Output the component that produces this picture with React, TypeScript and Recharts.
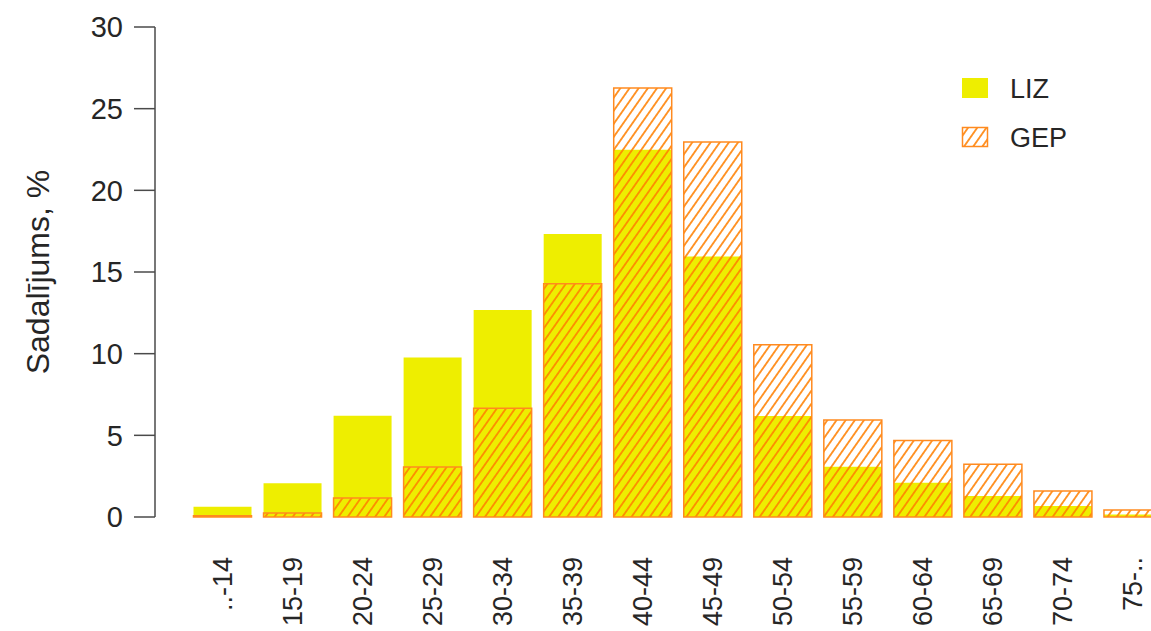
import React from 'react';
import { BarChart, Bar, XAxis, YAxis } from 'recharts';

// age groups and shares (%)
const categories = ['..-14', '15-19', '20-24', '25-29', '30-34', '35-39', '40-44', '45-49', '50-54', '55-59', '60-64', '65-69', '70-74', '75-..'];
const lizValues = [0.63, 2.06, 6.2, 9.76, 12.68, 17.32, 22.49, 15.95, 6.19, 3.08, 2.1, 1.29, 0.67, 0.15];
const gepValues = [0.08, 0.25, 1.16, 3.06, 6.66, 14.28, 26.27, 22.96, 10.54, 5.94, 4.68, 3.23, 1.59, 0.43];
const yTicks = [0, 5, 10, 15, 20, 25, 30];

const data = categories.map((cat, i) => ({ cat, liz: lizValues[i], gep: gepValues[i] }));

const FONT = '"Liberation Sans", Arial, Helvetica, sans-serif';
const TEXT = '#262626';
const AXIS = '#4a4a4a';
const YELLOW = '#EEEE00';
const ORANGE = '#FF8A1F';
const HATCH = '#FF7F00';
const LABEL_TOP = 557;

const AgeTick = (props: any) => {
  const { x, payload } = props;
  const tx = x + 9.5;
  const ty = LABEL_TOP;
  return (
    <text
      x={tx}
      y={ty}
      transform={`rotate(-90 ${tx} ${ty})`}
      textAnchor="end"
      fontFamily={FONT}
      fontSize={27}
      fill={TEXT}
    >
      {payload.value}
    </text>
  );
};

const YLabel = (props: any) => {
  const { viewBox } = props;
  const cx = viewBox.x + 38;
  const cy = viewBox.y + viewBox.height / 2;
  return (
    <text
      x={cx}
      y={cy}
      transform={`rotate(-90 ${cx} ${cy})`}
      textAnchor="middle"
      dominantBaseline="central"
      fontFamily={FONT}
      fontSize={32}
      fill={TEXT}
    >
      Sadalījums, %
    </text>
  );
};

const Legend = () => (
  <svg width={1151} height={631} style={{ position: 'absolute', left: 0, top: 0, pointerEvents: 'none' }}>
    <rect x={962} y={78} width={26} height={20} fill={YELLOW} />
    <text x={1010} y={89} dominantBaseline="central" fontFamily={FONT} fontSize={27} fill={TEXT}>LIZ</text>
    <rect x={962.5} y={127.5} width={25} height={19} fill="url(#gepHatch)" stroke={ORANGE} strokeWidth={1.5} />
    <text x={1010} y={138} dominantBaseline="central" fontFamily={FONT} fontSize={27} fill={TEXT}>GEP</text>
  </svg>
);

export default function App() {
  return (
    <div style={{ position: 'absolute', left: 0, top: 0, width: 1151, height: 631, overflow: 'hidden', background: '#fff' }}>
      <svg width={0} height={0} style={{ position: 'absolute' }}>
        <defs>
          <pattern id="gepHatch" patternUnits="userSpaceOnUse" width={7.5} height={7.5} patternTransform="rotate(35)">
            <line x1={3.75} y1={0} x2={3.75} y2={7.5} stroke={HATCH} strokeWidth={1.6} />
          </pattern>
        </defs>
      </svg>
      <BarChart
        width={1168}
        height={631}
        data={data}
        margin={{ top: 27, right: 0, bottom: 0, left: 0 }}
        barCategoryGap={6}
      >
        <XAxis
          xAxisId="liz"
          dataKey="cat"
          height={114}
          padding={{ left: 32.5, right: 0 }}
          axisLine={false}
          tickLine={false}
          interval={0}
          tick={<AgeTick />}
        />
        <XAxis xAxisId="gep" dataKey="cat" hide padding={{ left: 32.5, right: 0 }} />
        <YAxis
          width={155}
          domain={[0, 30]}
          ticks={yTicks}
          interval={0}
          tickSize={21}
          tickMargin={11}
          axisLine={{ stroke: AXIS, strokeWidth: 1.5 }}
          tickLine={{ stroke: AXIS, strokeWidth: 1.5 }}
          tick={{ fontFamily: FONT, fontSize: 29, fill: TEXT }}
          label={<YLabel />}
        />
        <Bar xAxisId="liz" dataKey="liz" fill={YELLOW} isAnimationActive={false} />
        <Bar
          xAxisId="gep"
          dataKey="gep"
          fill="url(#gepHatch)"
          stroke={ORANGE}
          strokeWidth={1.5}
          isAnimationActive={false}
        />
      </BarChart>
      <Legend />
    </div>
  );
}
